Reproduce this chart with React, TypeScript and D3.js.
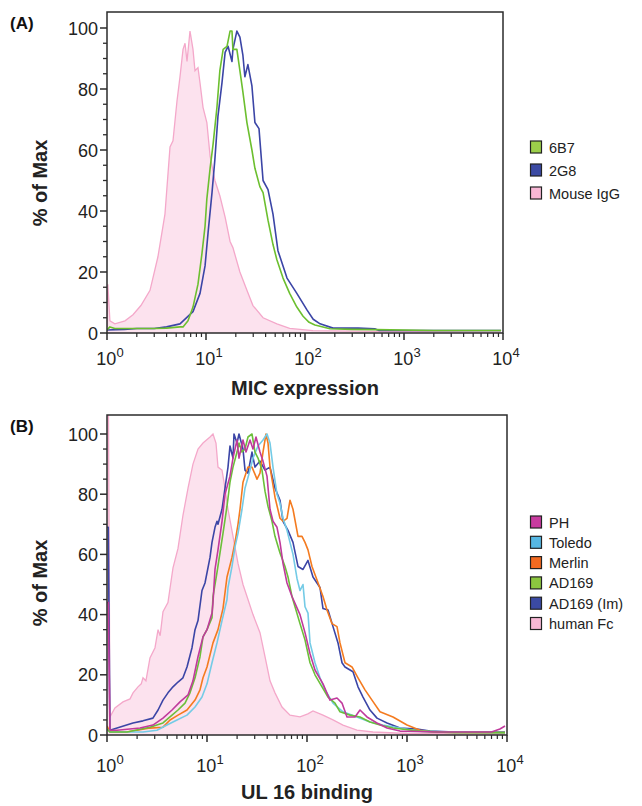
import React, { useEffect, useRef } from "react";
import * as d3 from "d3";

type Pt = [number, number];

// (A) MIC expression, % of max per channel
const mouseIgG: Pt[] = [
  [1, 2], [1.02, 16], [1.07, 4], [1.2, 3], [1.52, 4], [1.83, 6], [2.2, 9], [2.72, 14],
  [3.27, 25], [3.85, 39], [4.33, 61], [4.64, 63], [5.09, 76], [5.46, 84], [5.86, 93],
  [6.14, 95], [6.43, 89], [6.89, 99], [7.39, 93], [7.74, 86], [8.3, 87], [8.7, 82],
  [9.33, 74], [10.2, 69], [11.0, 58], [12.3, 50], [13.8, 45], [15.6, 38], [17.5, 30],
  [18.7, 28], [22, 20], [25.9, 14], [29.8, 9], [37.7, 5], [52, 3], [70, 1.5],
  [120, 0.8], [500, 0.5], [9500, 0.3],
];
const mab6B7: Pt[] = [
  [1, 1], [1.07, 2], [1.2, 1.5], [2, 1.5], [3, 1.5], [4, 1.6], [5.46, 2], [5.86, 2],
  [6.58, 4], [7.39, 8.5], [8.3, 16], [9.1, 26], [9.78, 35], [10.2, 44], [11, 54],
  [11.8, 62], [12.9, 74], [13.8, 86], [14.9, 93], [16.3, 94], [17.5, 99], [18.3, 99],
  [18.7, 93], [20.5, 93], [22, 86], [23.6, 79], [25.9, 69], [29.1, 60], [31.2, 54],
  [35, 48], [37.7, 46], [42.3, 37], [47.5, 29], [52, 24], [60, 18], [70, 13],
  [82.7, 8.5], [95.6, 5.5], [110, 3.5], [126, 2.6], [179, 1.4], [300, 1.2], [520, 1.1],
  [2000, 0.8], [9560, 0.8],
];
const mab2G8: Pt[] = [
  [1, 1], [1.5, 1.2], [2.01, 1.5], [3, 1.5], [4, 2], [5.46, 3], [7.39, 7], [8.7, 13],
  [9.78, 22], [10.5, 33], [11.5, 46], [12.3, 57], [13.2, 71], [14.5, 82], [15.6, 92],
  [16.7, 94], [18.3, 89], [18.7, 93], [20.5, 99], [22, 97], [23.6, 91], [24.7, 84],
  [26.5, 88], [29.1, 81], [31.2, 69], [34.3, 67], [37.7, 50], [42.3, 47], [47.5, 39],
  [53.3, 27], [65.8, 18], [82.7, 13], [105, 7.5], [121, 4.5], [142, 3], [192, 1.6],
  [344, 1.6], [506, 1.4], [560, 0.8], [9560, 0.8],
];

// (B) UL 16 binding, % of max per channel
const humanFc: Pt[] = [
  [1, 120], [1.03, 120], [1.07, 6], [1.2, 9], [1.445, 11], [1.7, 12], [1.82, 14],
  [2.04, 16], [2.2, 17], [2.29, 19], [2.45, 18], [2.69, 25.6], [3.02, 29], [3.24, 35],
  [3.4, 33], [3.63, 41], [4.07, 44], [4.57, 55.5], [5.13, 62], [5.75, 73], [6.46, 82],
  [7.24, 90], [8.13, 95], [9.12, 97], [10.72, 99], [11.48, 100], [12.3, 97], [12.88, 89],
  [14.13, 88], [15.14, 82], [16.22, 75], [18.2, 66], [20.42, 57], [22.91, 50],
  [25.7, 45], [28.84, 40], [33.88, 34], [38.02, 26], [42.66, 18], [47.86, 14],
  [56.23, 9.3], [67.6, 6.6], [85.1, 6], [102, 7], [114.8, 8], [144.5, 6.6], [182, 5],
  [229, 3.3], [316, 1.6], [457, 1], [1000, 0.5], [9550, 0.3],
];
const ad169Im: Pt[] = [
  [1, 69], [1.03, 69], [1.07, 1.6], [1.26, 2.3], [1.82, 4], [2.29, 4.7], [2.88, 5.6],
  [3.24, 8.3], [3.63, 11.6], [4.07, 14], [4.57, 16], [5.13, 17.6], [5.75, 19],
  [6.31, 22.6], [7.08, 29], [7.59, 35], [8.13, 38], [8.91, 48], [9.55, 50.5],
  [10.72, 59], [11.22, 64], [12.02, 69], [12.59, 71], [12.88, 70], [14.13, 75],
  [15.14, 82], [16.22, 89], [16.98, 96], [18.2, 92], [18.62, 100], [19.95, 97],
  [20.89, 100], [22.91, 95], [23.99, 88], [25.7, 87], [28.18, 94], [30.2, 89],
  [33.88, 91], [38.02, 88], [42.66, 89], [47.86, 82], [53.7, 78], [57.54, 71],
  [64.57, 68], [72.44, 64], [81.28, 56], [91.2, 55], [102.3, 58], [114.8, 52.5],
  [134.9, 49], [144.5, 42], [162.2, 41.5], [182, 36], [204.2, 30.6], [223.9, 24],
  [239.9, 22.6], [288.4, 21], [323.6, 16], [363.1, 12.6], [426.6, 8.3], [501.2, 5.6],
  [631, 4], [851, 2.3], [1259, 2], [1698, 1.3], [3000, 1], [9550, 1],
];
const merlin: Pt[] = [
  [1, 3], [1.07, 1], [1.585, 1], [2.69, 2.3], [3.63, 2.6], [4.27, 5], [5.13, 6.6],
  [6.31, 8.3], [7.59, 11.6], [8.51, 15], [9.12, 19], [10, 22.6], [11.48, 30.6],
  [12.88, 35], [14.45, 42], [15.85, 52.5], [17.78, 59], [19.05, 64], [20.42, 70],
  [21.38, 75], [22.91, 84], [25.7, 89], [28.18, 89], [31.62, 85], [33.88, 87],
  [36.31, 94], [38.9, 100], [40.74, 97], [42.66, 89], [47.86, 79], [53.7, 72],
  [57.54, 71], [63.1, 72], [67.61, 78], [72.44, 75], [81.28, 66], [89.13, 66],
  [95.5, 64], [102.3, 61.5], [112.2, 56], [125.9, 51.5], [144.5, 46], [158.5, 41.5],
  [177.8, 37], [199.5, 36], [213.8, 30.6], [239.9, 24], [281.8, 22.6], [323.6, 19],
  [380.2, 15], [446.7, 11.6], [537, 7.7], [724, 6], [1000, 3.3], [1349, 1.6],
  [1820, 1], [9550, 0.8],
];
const toledo: Pt[] = [
  [1, 2], [1.07, 1], [2.29, 1], [3.16, 1.6], [3.98, 3.3], [5.01, 5], [6.31, 6.6],
  [7.59, 9.3], [8.91, 12.6], [10, 17], [11.22, 24], [12.59, 30.6], [14.13, 38],
  [15.85, 45], [16.22, 49], [17.78, 56], [19.05, 62.5], [20.42, 67], [22.39, 75],
  [23.99, 82], [26.92, 88], [28.84, 92], [32.36, 96], [36.31, 98], [39.81, 100],
  [42.66, 97], [45.71, 89], [50.12, 80], [53.7, 77], [57.54, 72], [63.1, 68],
  [67.61, 64], [72.44, 60], [79.43, 52], [85.1, 48], [91.2, 50], [95.5, 42.6],
  [102.3, 40.5], [107.2, 30.6], [120.2, 24], [134.9, 19], [151.4, 15], [182, 10.6],
  [229, 7.7], [316, 6], [426.6, 4.3], [575, 3.3], [851, 2.3], [1259, 1.3], [2692, 1],
  [9550, 0.8],
];
const ad169: Pt[] = [
  [1, 2], [1.07, 1], [1.585, 1], [2.69, 2.6], [3.63, 4], [4.47, 6.6], [5.13, 8.3],
  [6.03, 10.6], [6.76, 14], [7.59, 19], [8.51, 26], [9.12, 32.6], [10, 35], [11.22, 39],
  [11.48, 46], [12.59, 54], [13.49, 60.5], [14.45, 67], [15.85, 76], [16.98, 84],
  [18.2, 89], [19.95, 94], [20.89, 97], [22.39, 94], [23.99, 95], [25.7, 99],
  [28.18, 100], [30.2, 94], [32.36, 92], [35.48, 88], [38.02, 81], [40.74, 76],
  [44.67, 71], [47.86, 66], [53.7, 60.5], [60.26, 56], [64.57, 52.5], [70.79, 46],
  [85.1, 37], [95.5, 31.6], [107.2, 24], [120.2, 20], [141.3, 16], [162.2, 12.6],
  [190.5, 10.6], [213.8, 7.7], [269.2, 6.6], [338.8, 6], [426.6, 4.3], [537, 3.3],
  [724, 2.3], [1349, 1.3], [3000, 0.8], [9550, 0.8],
];
const ph: Pt[] = [
  [1, 44], [1.03, 44], [1.07, 1.6], [1.26, 1.6], [2.14, 2.3], [2.88, 3.3], [3.63, 5.6],
  [4.47, 8.3], [5.37, 11], [6.46, 13.3], [7.24, 18], [8.13, 26], [9.12, 32.6], [10, 35],
  [11.22, 40.5], [11.48, 44], [12.02, 55], [12.88, 61.5], [14.13, 71], [15.14, 80],
  [16.98, 86], [18.2, 92], [19.95, 98], [20.89, 92], [22.91, 98], [24.55, 94],
  [26.92, 98], [28.84, 95], [30.9, 99], [33.88, 94], [36.31, 91], [39.81, 86],
  [42.66, 75], [45.71, 71], [50.12, 69], [53.7, 64], [57.54, 57], [63.1, 50.5],
  [70.79, 46], [85.1, 40], [95.5, 34], [107.2, 27], [120.2, 21.6], [144.5, 17],
  [169.8, 11.6], [199.5, 12.3], [223.9, 10.6], [251.2, 6], [302, 6], [338.8, 8.3],
  [398, 6], [501, 4], [631, 2.3], [851, 1.3], [2000, 1], [7000, 1], [8500, 2], [9550, 3],
];

const yTicks = [0, 20, 40, 60, 80, 100];
const xDecades = [0, 1, 2, 3, 4];

const legendA = ["6B7", "2G8", "Mouse IgG"];
const legendAColors = ["#9ccf4a", "#3b4aa3", "#f8b7d5"];
const legendB = ["PH", "Toledo", "Merlin", "AD169", "AD169 (Im)", "human Fc"];
const legendBColors = ["#c83b9f", "#56b7e3", "#f26a21", "#8cc63f", "#3b4aa3", "#f8b7d5"];

const FONT = "'Liberation Sans', Arial, sans-serif";

function drawPanel(svg: any, p: any) {
  const x = d3.scaleLog().domain([1, 10000]).range([p.left, p.right]);
  const y = d3.scaleLinear().domain([0, 100]).range([p.bottom, p.y100]);
  const g = svg.append("g");

  g.append("clipPath").attr("id", "clip" + p.id)
    .append("rect")
    .attr("x", p.left).attr("y", p.top)
    .attr("width", p.right - p.left).attr("height", p.bottom - p.top);
  const plot = g.append("g").attr("clip-path", `url(#clip${p.id})`);

  const area = d3.area<Pt>().x(d => x(d[0])).y0(p.bottom).y1(d => y(d[1]));
  const line = d3.line<Pt>().x(d => x(d[0])).y(d => y(d[1]));

  plot.append("path").datum(p.control).attr("d", area).attr("fill", "#fce2ee");
  plot.append("path").datum(p.control).attr("d", line)
    .attr("fill", "none").attr("stroke", "#f4a8ca").attr("stroke-width", 1.3);

  p.series.forEach((s: any) => {
    plot.append("path").datum(s.data).attr("d", line)
      .attr("fill", "none").attr("stroke", s.color)
      .attr("stroke-width", 1.6).attr("stroke-linejoin", "round");
  });

  // frame
  g.append("rect")
    .attr("x", p.left).attr("y", p.top)
    .attr("width", p.right - p.left).attr("height", p.bottom - p.top)
    .attr("fill", "none").attr("stroke", "#2b2b2b").attr("stroke-width", 1.5);

  // y axis
  const minor = d3.range(5, 100, 5).filter(v => v % 20 !== 0);
  g.selectAll(".ymin").data(minor).enter().append("line")
    .attr("x1", p.left - 4).attr("x2", p.left)
    .attr("y1", (d: number) => y(d)).attr("y2", (d: number) => y(d))
    .attr("stroke", "#2b2b2b").attr("stroke-width", 1.3);
  g.selectAll(".ymaj").data(yTicks).enter().append("line")
    .attr("x1", p.left - 7).attr("x2", p.left)
    .attr("y1", (d: number) => y(d)).attr("y2", (d: number) => y(d))
    .attr("stroke", "#2b2b2b").attr("stroke-width", 1.5);
  g.selectAll(".ylab").data(yTicks).enter().append("text")
    .attr("x", p.left - 9).attr("y", (d: number) => y(d) + 6.5)
    .attr("text-anchor", "end").attr("font-family", FONT).attr("font-size", 18)
    .attr("fill", "#222").text((d: number) => d);

  // x axis
  const xMinor: number[] = [];
  xDecades.slice(0, -1).forEach(k => {
    for (let m = 2; m <= 9; m++) xMinor.push(m * Math.pow(10, k));
  });
  g.selectAll(".xmin").data(xMinor).enter().append("line")
    .attr("x1", (d: number) => x(d)).attr("x2", (d: number) => x(d))
    .attr("y1", p.bottom).attr("y2", p.bottom + 4)
    .attr("stroke", "#2b2b2b").attr("stroke-width", 1.2);
  g.selectAll(".xmaj").data(xDecades).enter().append("line")
    .attr("x1", (d: number) => x(Math.pow(10, d))).attr("x2", (d: number) => x(Math.pow(10, d)))
    .attr("y1", p.bottom).attr("y2", p.bottom + 7)
    .attr("stroke", "#2b2b2b").attr("stroke-width", 1.5);
  const xl = g.selectAll(".xlab").data(xDecades).enter().append("text")
    .attr("x", (d: number) => x(Math.pow(10, d)) + 3).attr("y", p.labelY)
    .attr("text-anchor", "middle").attr("font-family", FONT).attr("font-size", 18)
    .attr("fill", "#222");
  xl.append("tspan").text("10");
  xl.append("tspan").attr("dy", -8).attr("font-size", 13).text((d: number) => d);

  // titles
  g.append("text").attr("x", (p.left + p.right) / 2).attr("y", p.titleY)
    .attr("text-anchor", "middle").attr("font-family", FONT).attr("font-size", 20)
    .attr("font-weight", "bold").attr("fill", "#222").text(p.xTitle);
  g.append("text")
    .attr("transform", `translate(47,${p.yTitleY}) rotate(-90)`)
    .attr("text-anchor", "middle").attr("font-family", FONT).attr("font-size", 20)
    .attr("font-weight", "bold").attr("fill", "#222").text("% of Max");
  g.append("text").attr("x", 10).attr("y", p.top + 17)
    .attr("font-family", FONT).attr("font-size", 17).attr("font-weight", "bold")
    .attr("fill", "#111").text(p.tag);

  // legend
  const lg = g.selectAll(".leg").data(p.legend).enter().append("g")
    .attr("transform", (_d: string, i: number) => `translate(530,${p.legendY + i * p.legendStep})`);
  lg.append("rect").attr("x", 0.5).attr("y", -6).attr("width", 11).attr("height", 12)
    .attr("fill", (_d: string, i: number) => p.legendColors[i])
    .attr("stroke", "#222").attr("stroke-width", 1.2);
  lg.append("text").attr("x", 19).attr("y", 5.5)
    .attr("font-family", FONT).attr("font-size", 14.5).attr("fill", "#222")
    .text((d: string) => d);
}

export default function App() {
  const ref = useRef<SVGSVGElement>(null);

  useEffect(() => {
    const svg = d3.select(ref.current);
    svg.selectAll("*").remove();

    drawPanel(svg, {
      id: "A", tag: "(A)", left: 107, right: 503, top: 12, bottom: 333, y100: 28,
      labelY: 365, titleY: 395, yTitleY: 183, xTitle: "MIC expression",
      control: mouseIgG,
      series: [
        { data: mab2G8, color: "#3b45a6" },
        { data: mab6B7, color: "#6cbf2f" },
      ],
      legend: legendA, legendColors: legendAColors, legendY: 147, legendStep: 23,
    });

    drawPanel(svg, {
      id: "B", tag: "(B)", left: 107, right: 507, top: 415, bottom: 735, y100: 434,
      labelY: 772, titleY: 799, yTitleY: 583, xTitle: "UL 16 binding",
      control: humanFc,
      series: [
        { data: ad169Im, color: "#3b45a6" },
        { data: merlin, color: "#f47b20" },
        { data: toledo, color: "#74cbe6" },
        { data: ad169, color: "#6cbf3a" },
        { data: ph, color: "#c03a9c" },
      ],
      legend: legendB, legendColors: legendBColors, legendY: 522, legendStep: 20.3,
    });
  }, []);

  return (
    <svg ref={ref} width={642} height={806}
      style={{ position: "absolute", left: 0, top: 0, background: "#fff" }} />
  );
}
